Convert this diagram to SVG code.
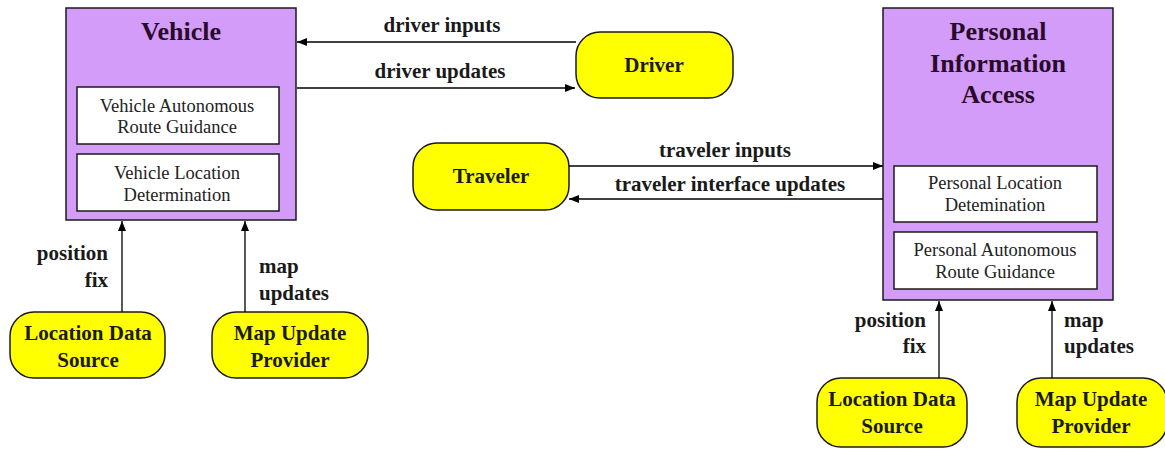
<svg xmlns="http://www.w3.org/2000/svg" width="1165" height="449" viewBox="0 0 1165 449">
<defs>
<marker id="arr" viewBox="0 0 10 10" refX="10" refY="5" markerWidth="10" markerHeight="10" markerUnits="userSpaceOnUse" orient="auto">
<path d="M0,1 L10,5 L0,9 z" fill="#000"/>
</marker>
</defs>
<style>
.sys{fill:#D29CF8;stroke:#1a1a1a;stroke-width:1.5}
.sub{fill:#fff;stroke:#1a1a1a;stroke-width:1.5}
.term{fill:#FFFF00;stroke:#1a1a1a;stroke-width:1.5}
.ttl{font-family:"Liberation Serif",serif;font-weight:bold;font-size:26px;fill:#2a0a2a;text-anchor:middle}
.st{font-family:"Liberation Serif",serif;font-size:18.5px;fill:#222;text-anchor:middle}
.tt{font-family:"Liberation Serif",serif;font-weight:bold;font-size:21px;fill:#1a1a1a;text-anchor:middle}
.lbl{font-family:"Liberation Serif",serif;font-weight:bold;font-size:21px;fill:#1a1a1a}
.c{stroke:#000;stroke-width:1.3;fill:none;marker-end:url(#arr)}
</style>
<rect width="1165" height="449" fill="#fff"/>
<g id="vehicle">
<rect class="sys" x="66" y="8" width="230" height="212"/>
<text class="ttl" x="181" y="40">Vehicle</text>
<rect class="sub" x="77" y="87" width="202" height="57"/>
<text class="st" x="177" y="112">Vehicle Autonomous</text>
<text class="st" x="177" y="133">Route Guidance</text>
<rect class="sub" x="77" y="154" width="202" height="57"/>
<text class="st" x="177" y="179">Vehicle Location</text>
<text class="st" x="177" y="201">Determination</text>
</g>
<g id="pia">
<rect class="sys" x="883" y="8" width="230" height="292"/>
<text class="ttl" x="998" y="40">Personal</text>
<text class="ttl" x="998" y="72">Information</text>
<text class="ttl" x="998" y="103">Access</text>
<rect class="sub" x="894" y="166" width="203" height="56"/>
<text class="st" x="995" y="189">Personal Location</text>
<text class="st" x="995" y="211">Detemination</text>
<rect class="sub" x="894" y="232" width="203" height="57"/>
<text class="st" x="995" y="256">Personal Autonomous</text>
<text class="st" x="995" y="278">Route Guidance</text>
</g>
<g id="driver">
<rect class="term" x="576" y="32" width="157" height="66" rx="24"/>
<text class="tt" x="654" y="72">Driver</text>
</g>
<g id="traveler">
<rect class="term" x="413" y="143" width="156" height="67" rx="24"/>
<text class="tt" x="491" y="183">Traveler</text>
</g>
<g id="lds1">
<rect class="term" x="10" y="312" width="155" height="66" rx="24"/>
<text class="tt" x="88" y="340">Location Data</text>
<text class="tt" x="88" y="367">Source</text>
</g>
<g id="mup1">
<rect class="term" x="212" y="312" width="156" height="66" rx="24"/>
<text class="tt" x="290" y="340">Map Update</text>
<text class="tt" x="290" y="367">Provider</text>
</g>
<g id="lds2">
<rect class="term" x="817" y="378" width="150" height="69" rx="24"/>
<text class="tt" x="892" y="406">Location Data</text>
<text class="tt" x="892" y="433">Source</text>
</g>
<g id="mup2">
<rect class="term" x="1017" y="378" width="150" height="69" rx="24"/>
<text class="tt" x="1091" y="406">Map Update</text>
<text class="tt" x="1091" y="433">Provider</text>
</g>
<g id="connectors">
<line class="c" x1="576" y1="42" x2="297" y2="42"/>
<line class="c" x1="297" y1="88" x2="575" y2="88"/>
<line class="c" x1="569" y1="166" x2="883" y2="166"/>
<line class="c" x1="883" y1="199" x2="569" y2="199"/>
<line class="c" x1="122" y1="312" x2="122" y2="221"/>
<line class="c" x1="245" y1="312" x2="245" y2="221"/>
<line class="c" x1="939" y1="378" x2="939" y2="301"/>
<line class="c" x1="1052" y1="378" x2="1052" y2="301"/>
<text class="lbl" x="442" y="32" text-anchor="middle">driver inputs</text>
<text class="lbl" x="440" y="78" text-anchor="middle">driver updates</text>
<text class="lbl" x="725" y="157" text-anchor="middle">traveler inputs</text>
<text class="lbl" x="730" y="191" text-anchor="middle">traveler interface updates</text>
<text class="lbl" x="108" y="260" text-anchor="end">position</text>
<text class="lbl" x="108" y="287" text-anchor="end">fix</text>
<text class="lbl" x="259" y="273">map</text>
<text class="lbl" x="259" y="300">updates</text>
<text class="lbl" x="926" y="327" text-anchor="end">position</text>
<text class="lbl" x="926" y="353" text-anchor="end">fix</text>
<text class="lbl" x="1064" y="327">map</text>
<text class="lbl" x="1064" y="353">updates</text>
</g>
</svg>
